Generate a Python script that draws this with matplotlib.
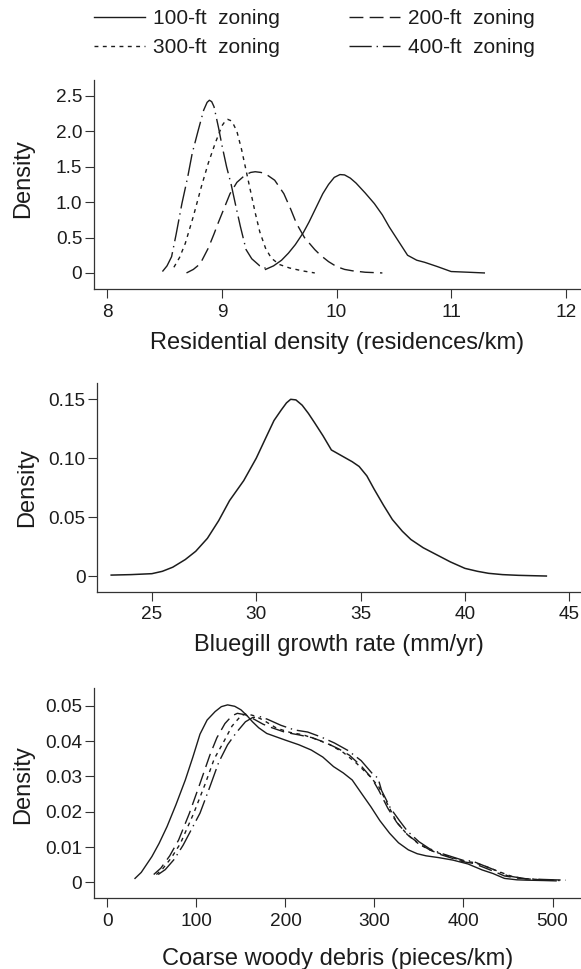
import matplotlib
matplotlib.use('Agg')
from matplotlib import pyplot as plt

plt.rcParams['font.family'] = ['Liberation Sans', 'DejaVu Sans']

ink = '#1c1c1c'

# ---- panel 1: residential density, by zoning scenario
res100_x = [9.38, 9.45, 9.52, 9.58, 9.64, 9.71, 9.76, 9.82, 9.88, 9.93, 9.98, 10.03, 10.07,
            10.12, 10.17, 10.25, 10.33, 10.4, 10.46, 10.54, 10.62, 10.7, 10.77, 10.88, 11.0,
            11.15, 11.29]
res100_y = [0.05, 0.1, 0.18, 0.28, 0.4, 0.57, 0.72, 0.92, 1.12, 1.25, 1.35, 1.39, 1.385,
            1.34, 1.27, 1.13, 0.98, 0.82, 0.65, 0.45, 0.25, 0.18, 0.15, 0.09, 0.02, 0.01, 0.0]
res200_x = [8.69, 8.75, 8.81, 8.88, 8.93, 8.97, 9.02, 9.07, 9.13, 9.2, 9.25, 9.29, 9.34,
            9.38, 9.46, 9.54, 9.6, 9.65, 9.72, 9.81, 9.86, 9.93, 10.0, 10.07, 10.14, 10.25,
            10.4]
res200_y = [0.0, 0.05, 0.13, 0.35, 0.55, 0.72, 0.92, 1.12, 1.28, 1.38, 1.42, 1.43, 1.42,
            1.40, 1.31, 1.12, 0.9, 0.7, 0.5, 0.33, 0.25, 0.16, 0.09, 0.05, 0.03, 0.01, 0.0]
res300_x = [8.58, 8.63, 8.68, 8.75, 8.82, 8.88, 8.94, 9.0, 9.03, 9.05, 9.08, 9.1, 9.13,
            9.17, 9.21, 9.25, 9.29, 9.33, 9.38, 9.43, 9.5, 9.59, 9.7, 9.81]
res300_y = [0.08, 0.22, 0.42, 0.8, 1.22, 1.55, 1.83, 2.08, 2.15, 2.17, 2.15, 2.1, 2.0,
            1.75, 1.45, 1.15, 0.85, 0.58, 0.35, 0.21, 0.12, 0.07, 0.03, 0.0]
res400_x = [8.48, 8.52, 8.56, 8.6, 8.65, 8.7, 8.74, 8.79, 8.84, 8.87, 8.89, 8.91, 8.93,
            8.97, 9.0, 9.04, 9.08, 9.12, 9.16, 9.21, 9.26, 9.33, 9.42]
res400_y = [0.02, 0.1, 0.23, 0.55, 0.98, 1.35, 1.69, 2.0, 2.3, 2.41, 2.44, 2.42, 2.35,
            2.05, 1.8, 1.5, 1.25, 0.95, 0.66, 0.33, 0.2, 0.1, 0.04]

# ---- panel 2: bluegill growth
blue_x = [23.05, 24.0, 25.0, 25.5, 26.0, 26.6, 27.1, 27.66, 28.2, 28.72, 29.4, 30.0, 30.45,
          30.85, 31.2, 31.45, 31.65, 31.9, 32.2, 32.5, 32.8, 33.2, 33.6, 33.9, 34.2, 34.6,
          34.93, 35.3, 35.64, 36.1, 36.52, 37.0, 37.41, 38.0, 38.65, 39.3, 40.0, 40.6,
          41.13, 41.8, 42.55, 43.2, 43.9]
blue_y = [0.0008, 0.0012, 0.002, 0.004, 0.0075, 0.014, 0.021, 0.032, 0.047, 0.064, 0.081,
          0.1, 0.117, 0.132, 0.141, 0.147, 0.150, 0.1495, 0.145, 0.138, 0.13, 0.119, 0.107,
          0.104, 0.101, 0.097, 0.093, 0.085, 0.074, 0.06, 0.048, 0.038, 0.031, 0.024, 0.018,
          0.012, 0.0065, 0.004, 0.0023, 0.0012, 0.0006, 0.0003, 0.0]

# ---- panel 3: coarse woody debris, by zoning scenario
cwd100_x = [31, 38, 50, 58, 67, 77, 87.5, 96, 104, 112, 121, 128, 135, 143, 150, 157, 163,
            170, 179, 190, 200, 215, 229, 242, 254, 265, 275, 286, 296, 306, 317, 327, 338,
            348, 358, 372, 388, 405, 421, 433, 446, 460, 471, 490, 504]
cwd100_y = [0.0011, 0.0028, 0.0073, 0.011, 0.0158, 0.022, 0.029, 0.0355, 0.042, 0.046, 0.0484,
            0.0498, 0.0503, 0.0499, 0.0489, 0.0472, 0.0455, 0.0438, 0.0422, 0.0412, 0.0403,
            0.039, 0.0375, 0.0355, 0.0328, 0.031, 0.029, 0.025, 0.0214, 0.0175, 0.0139, 0.0112,
            0.0092, 0.0081, 0.0075, 0.007, 0.0063, 0.0052, 0.0035, 0.0025, 0.0011, 0.0007,
            0.0006, 0.0005, 0.0004]
cwd200_x = [52, 60, 70, 80, 92, 104, 115, 123, 132, 140, 146, 155, 165, 175, 185, 200, 215,
            230, 245, 260, 272, 285, 297, 305, 315, 325, 337, 350, 362, 375, 390, 400, 410,
            420, 433, 446, 460, 480, 500]
cwd200_y = [0.0022, 0.004, 0.0075, 0.012, 0.0195, 0.028, 0.036, 0.041, 0.045, 0.0472, 0.0479,
            0.0475, 0.0462, 0.0448, 0.0438, 0.0425, 0.0418, 0.041, 0.0396, 0.0378, 0.036, 0.033,
            0.0295, 0.026, 0.021, 0.017, 0.0135, 0.011, 0.0092, 0.0078, 0.0066, 0.0058, 0.0054,
            0.0045, 0.0032, 0.0018, 0.0012, 0.0008, 0.0006]
cwd300_x = [55, 62, 72, 82, 97, 110, 120, 131, 140, 150, 156, 165, 175, 190, 205, 220, 235,
            250, 265, 280, 295, 305, 315, 325, 337, 350, 362, 375, 390, 400, 412, 425, 440,
            455, 470, 490, 508]
cwd300_y = [0.0022, 0.0038, 0.007, 0.011, 0.0196, 0.028, 0.035, 0.04, 0.0443, 0.0472, 0.0478,
            0.0472, 0.046, 0.0437, 0.0425, 0.0418, 0.0405, 0.039, 0.0368, 0.0337, 0.03, 0.027,
            0.022, 0.017, 0.0135, 0.0108, 0.0092, 0.008, 0.0068, 0.006, 0.0056, 0.0045, 0.003,
            0.0016, 0.001, 0.0007, 0.0005]
cwd400_x = [57, 65, 75, 85, 104, 115, 125, 135, 145, 155, 163, 171, 180, 195, 210, 225, 240,
            255, 270, 285, 297, 304, 308, 318, 328, 337, 350, 362, 375, 390, 400, 410, 420,
            435, 450, 470, 490, 515]
cwd400_y = [0.0022, 0.0036, 0.0065, 0.0105, 0.0196, 0.027, 0.034, 0.039, 0.0425, 0.0455,
            0.0467, 0.047, 0.0462, 0.0445, 0.0432, 0.0426, 0.0412, 0.0395, 0.0374, 0.0345,
            0.031, 0.0295, 0.026, 0.021, 0.0175, 0.0145, 0.0115, 0.0095, 0.0082, 0.007, 0.0062,
            0.006, 0.005, 0.0035, 0.0018, 0.001, 0.0008, 0.0006]

zone_labels = ['100-ft  zoning', '200-ft  zoning', '300-ft  zoning', '400-ft  zoning']
styles = ['-', (0, (10, 4.5)), (0, (2.8, 3.2)), (0, (16, 3.5, 1, 3.5))]

res_ticks = [8, 9, 10, 11, 12]
res_yticks = [0, 0.5, 1.0, 1.5, 2.0, 2.5]
res_ylabels = ['0', '0.5', '1.0', '1.5', '2.0', '2.5']
blue_ticks = [25, 30, 35, 40, 45]
blue_yticks = [0, 0.05, 0.10, 0.15]
blue_ylabels = ['0', '0.05', '0.10', '0.15']
cwd_ticks = [0, 100, 200, 300, 400, 500]
cwd_yticks = [0, 0.01, 0.02, 0.03, 0.04, 0.05]
cwd_ylabels = ['0', '0.01', '0.02', '0.03', '0.04', '0.05']

W, H = 581, 969
f = plt.figure(figsize=(W / 100, H / 100), dpi=100)


def make_axes(left, top, bottom):
    ax = f.add_axes([left / W, 1 - bottom / H, 1 - left / W, (bottom - top) / H])
    for s in ['top', 'right']:
        ax.spines[s].set_visible(False)
    for s in ['left', 'bottom']:
        ax.spines[s].set_linewidth(0.9)
        ax.spines[s].set_color('#333333')
    ax.tick_params(axis='both', length=6.8, width=0.8, color='#333333',
                   labelsize=13.7, labelcolor=ink)
    ax.tick_params(axis='y', pad=1.5)
    ax.tick_params(axis='x', pad=3.5)
    return ax


def finish(ax, xlab, xt, yt, ylabs, ly, lpad=8):
    ax.set_xticks(xt)
    ax.set_xticklabels([str(t) for t in xt])
    ax.set_yticks(yt)
    ax.set_yticklabels(ylabs)
    ax.set_xlabel(xlab, fontsize=17, color=ink, labelpad=lpad)
    ax.set_ylabel('Density', fontsize=17, color=ink)
    ax.yaxis.set_label_coords(-0.122, ly)


ax1 = make_axes(93.7, 80, 289.3)
h1 = []
for xs, ys, ls, lab in zip([res100_x, res200_x, res300_x, res400_x],
                           [res100_y, res200_y, res300_y, res400_y], styles, zone_labels):
    ln, = ax1.plot(xs, ys, color=ink, lw=1.0, linestyle=ls, label=lab)
    h1.append(ln)
ax1.set_xlim(7.88, 12.134)
ax1.set_ylim(-0.231, 2.726)
finish(ax1, 'Residential density (residences/km)', res_ticks, res_yticks, res_ylabels, 0.53)

ax2 = make_axes(97, 382.7, 591.7)
ax2.plot(blue_x, blue_y, color=ink, lw=1.1)
ax2.set_xlim(22.37, 45.56)
ax2.set_ylim(-0.0133, 0.1641)
finish(ax2, 'Bluegill growth rate (mm/yr)', blue_ticks, blue_yticks, blue_ylabels, 0.5)

ax3 = make_axes(93.7, 688.3, 898.3)
for xs, ys, ls in zip([cwd100_x, cwd200_x, cwd300_x, cwd400_x],
                      [cwd100_y, cwd200_y, cwd300_y, cwd400_y], styles):
    ax3.plot(xs, ys, color=ink, lw=1.0, linestyle=ls)
ax3.set_xlim(-15.4, 532)
ax3.set_ylim(-0.00454, 0.055)
finish(ax3, 'Coarse woody debris (pieces/km)', cwd_ticks, cwd_yticks, cwd_ylabels, 0.54, lpad=13)

leg = f.legend([h1[0], h1[2], h1[1], h1[3]],
               [zone_labels[0], zone_labels[2], zone_labels[1], zone_labels[3]],
               ncol=2, loc='upper left', bbox_to_anchor=(94 / W, 1 - 9 / H),
               frameon=False, fontsize=15, handlelength=2.45, handletextpad=0.38,
               columnspacing=3.3, labelspacing=0.5, borderpad=0, borderaxespad=0)
for t in leg.get_texts():
    t.set_color(ink)

plt.savefig('out.png', dpi=100)
